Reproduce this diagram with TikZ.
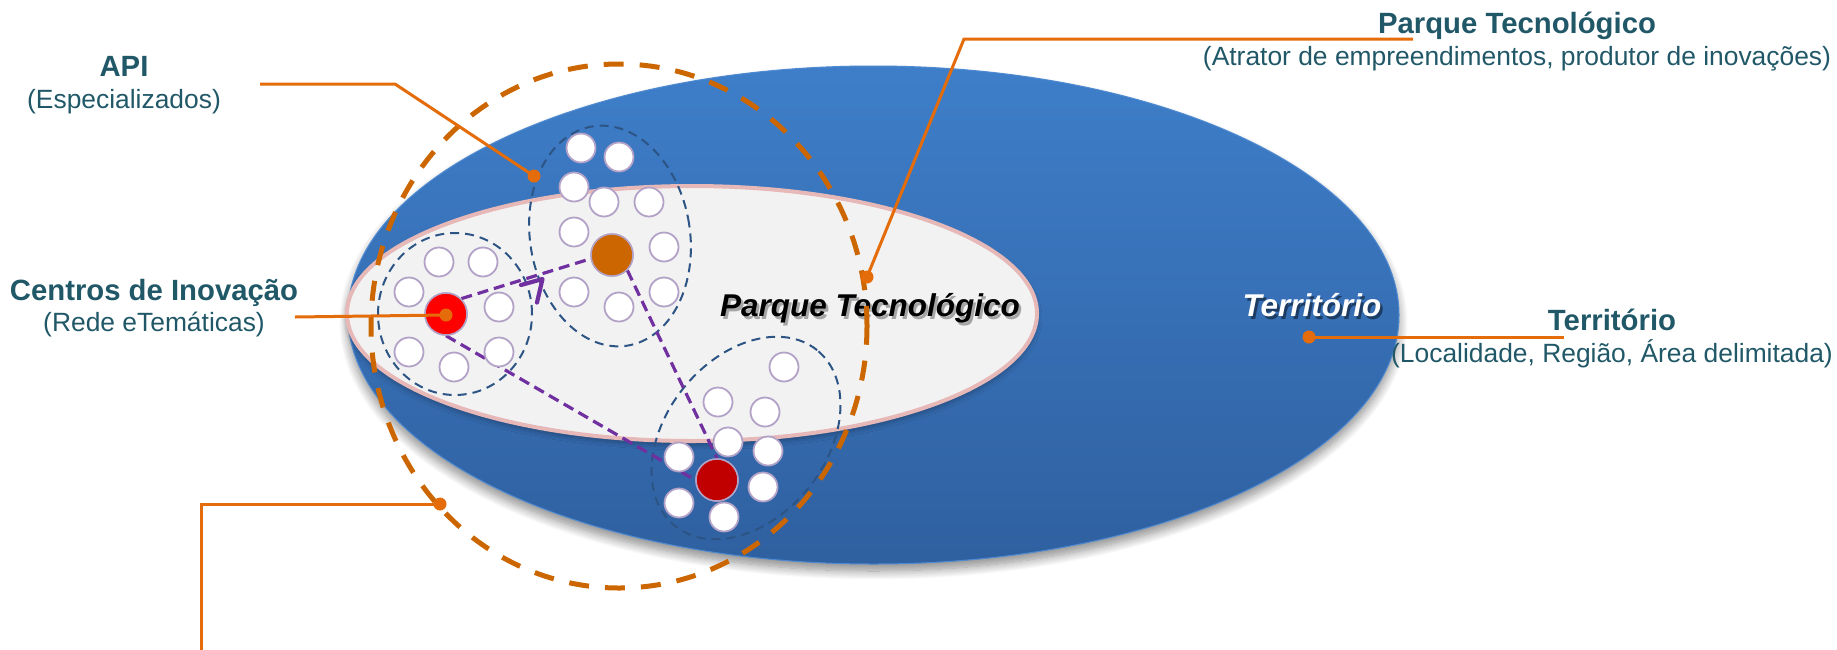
\documentclass[tikz,border=0pt]{standalone}
\usepackage{fontspec}
\setmainfont{Liberation Sans}
\usetikzlibrary{shapes.geometric,shadows.blur}
\definecolor{blueTop}{RGB}{62,126,201}
\definecolor{blueBot}{RGB}{47,96,160}
\definecolor{blueEdge}{RGB}{78,138,210}
\definecolor{innerFill}{RGB}{242,242,242}
\definecolor{innerB}{RGB}{230,184,183}
\definecolor{ldr}{RGB}{228,108,10}
\definecolor{dashO}{RGB}{204,102,0}
\definecolor{txtC}{RGB}{33,88,104}
\definecolor{clusC}{RGB}{44,84,132}
\definecolor{purp}{RGB}{112,48,160}
\definecolor{circB}{RGB}{179,162,199}
\definecolor{redA}{RGB}{255,0,0}
\definecolor{redB}{RGB}{192,0,0}
\definecolor{orgA}{RGB}{204,102,0}
\begin{document}
\begin{tikzpicture}[x=1pt,y=-1pt,
  wc/.style={circle, minimum size=29pt, inner sep=0pt, fill=white, draw=circB, line width=1.8pt},
  bigc/.style={circle, minimum size=42pt, inner sep=0pt, draw=circB, line width=1.5pt},
  dot/.style={circle, fill=ldr, minimum size=13pt, inner sep=0pt},
  leader/.style={draw=ldr, line width=3pt},
  clus/.style={draw=clusC, line width=2pt, dash pattern=on 9pt off 6pt},
  link/.style={draw=purp, line width=3.2pt, dash pattern=on 11pt off 6pt},
  bigdash/.style={draw=dashO, line width=5pt, dash pattern=on 20pt off 16pt},
  titl/.style={text=txtC, font=\fontsize{29.3}{34}\selectfont\bfseries, anchor=base, inner sep=0pt},
  subt/.style={text=txtC, font=\fontsize{26.4}{31}\selectfont, anchor=base, inner sep=0pt},
  inlab/.style={font=\fontsize{31.5}{36}\selectfont\bfseries\itshape, anchor=base, inner sep=0pt}]
\useasboundingbox (0,0) rectangle (1837,649);

% territory ellipse
\node[ellipse, minimum width=1051pt, minimum height=498pt, inner sep=0pt,
  top color=blueTop, bottom color=blueBot, draw=blueEdge, line width=1pt,
  blur shadow={shadow xshift=0pt, shadow yshift=-7pt, shadow blur radius=9pt, shadow blur steps=12, shadow opacity=45}]
  (ter) at (873.5,315) {};
\node[inlab, text=black, opacity=0.45] (terSh) at (1314.5,319) {Território};
\node[inlab, text=white] (terLab) at (1312,316.5) {Território};

% park ellipse
\node[ellipse, minimum width=690pt, minimum height=255pt, inner sep=0pt,
  fill=innerFill, draw=innerB, line width=4pt,
  blur shadow={shadow xshift=0pt, shadow yshift=-4pt, shadow blur radius=5pt, shadow blur steps=8, shadow opacity=30}]
  (park) at (692,313.5) {};
\node[inlab, text=black!55, opacity=0.6] (parkSh) at (872.5,319.5) {Parque Tecnológico};
\node[inlab, text=black] (parkLab) at (870,316.5) {Parque Tecnológico};

% cluster outlines
\draw[clus] (455,314) ellipse [x radius=77pt, y radius=81pt];
\draw[clus, rotate around={9:(610,236)}] (610,236) ellipse [x radius=80pt, y radius=111pt];
\draw[clus, rotate around={51:(746,438)}] (746,438) ellipse [x radius=113pt, y radius=80pt];

% main circles (positions only, drawn later)
\path (446,314) node[bigc, fill=redA] (red) {};
\path (612,255) node[bigc, fill=orgA] (org) {};
\path (717,480) node[bigc, fill=redB] (dred) {};

% purple links
\draw[link] (red.45) -- (org.190);
\draw[link] (red.south) -- (dred.west);
\draw[link] (org.-45) -- (dred.north);
\coordinate (chA) at (521,285);
\coordinate (chB) at (542.5,279);
\coordinate (chC) at (537,302.5);
\draw[purp, line width=4.2pt, line cap=round, line join=round] (chA) -- (chB) -- (chC);

% redraw main circles on top
\node[bigc, fill=redA] (red2) at (446,314) {};
\node[bigc, fill=orgA] (org2) at (612,255) {};
\node[bigc, fill=redB] (dred2) at (717,480) {};

% white circles cluster 1
\node[wc] (a1) at (439,262) {};
\node[wc] (a2) at (483,262) {};
\node[wc] (a3) at (409,292) {};
\node[wc] (a4) at (499,307) {};
\node[wc] (a5) at (409,352) {};
\node[wc] (a6) at (454,367) {};
\node[wc] (a7) at (499,352) {};
% cluster 2
\node[wc] (b1) at (581,148) {};
\node[wc] (b2) at (619,157) {};
\node[wc] (b3) at (574,187) {};
\node[wc] (b4) at (604,202) {};
\node[wc] (b5) at (649,202) {};
\node[wc] (b6) at (574,232) {};
\node[wc] (b7) at (664,247) {};
\node[wc] (b8) at (574,292) {};
\node[wc] (b9) at (619,307) {};
\node[wc] (b10) at (664,292) {};
% cluster 3
\node[wc] (c1) at (784,367) {};
\node[wc] (c2) at (718,402) {};
\node[wc] (c3) at (765,412) {};
\node[wc] (c4) at (728,442) {};
\node[wc] (c5) at (768,451) {};
\node[wc] (c6) at (679,457) {};
\node[wc] (c7) at (763,487) {};
\node[wc] (c8) at (679,503) {};
\node[wc] (c9) at (724,517) {};

% big dashed circle
\draw[bigdash] (619,326) ellipse [x radius=248pt, y radius=262pt];

% leaders
\node[dot] (dApi) at (534,176) {};
\node[dot] (dCen) at (446,315) {};
\node[dot] (dBot) at (440,504) {};
\node[dot] (dPark) at (867,277) {};
\node[dot] (dTer) at (1309,337) {};
\coordinate (kApi1) at (260,84);
\coordinate (kApi2) at (395,84);
\coordinate (kCen) at (295,317);
\coordinate (kBot1) at (201,504);
\coordinate (kBot2) at (201,652);
\coordinate (kPark1) at (964,39);
\coordinate (kPark2) at (1413,39);
\coordinate (kTer) at (1564,337);
\draw[leader] (kApi1) -- (kApi2) -- (dApi.center);
\draw[leader] (kCen) -- (dCen.center);
\draw[leader] (dBot.center) -- (kBot1) -- (kBot2);
\draw[leader] (kPark2) -- (kPark1) -- (dPark.center);
\draw[leader] (dTer.center) -- (kTer);

% labels
\node[titl] (tApi) at (124,76.5) {API};
\node[subt] (sApi) at (124,108.5) {(Especializados)};
\node[titl] (tCen) at (154,300) {Centros de Inovação};
\node[subt] (sCen) at (154,331) {(Rede eTemáticas)};
\node[titl] (tPark) at (1517,33) {Parque Tecnológico};
\node[subt] (sPark) at (1517,65.5) {(Atrator de empreendimentos, produtor de inovações)};
\node[titl] (tTer) at (1612,330) {Território};
\node[subt] (sTer) at (1612,362) {(Localidade, Região, Área delimitada)};
\end{tikzpicture}
\end{document}
